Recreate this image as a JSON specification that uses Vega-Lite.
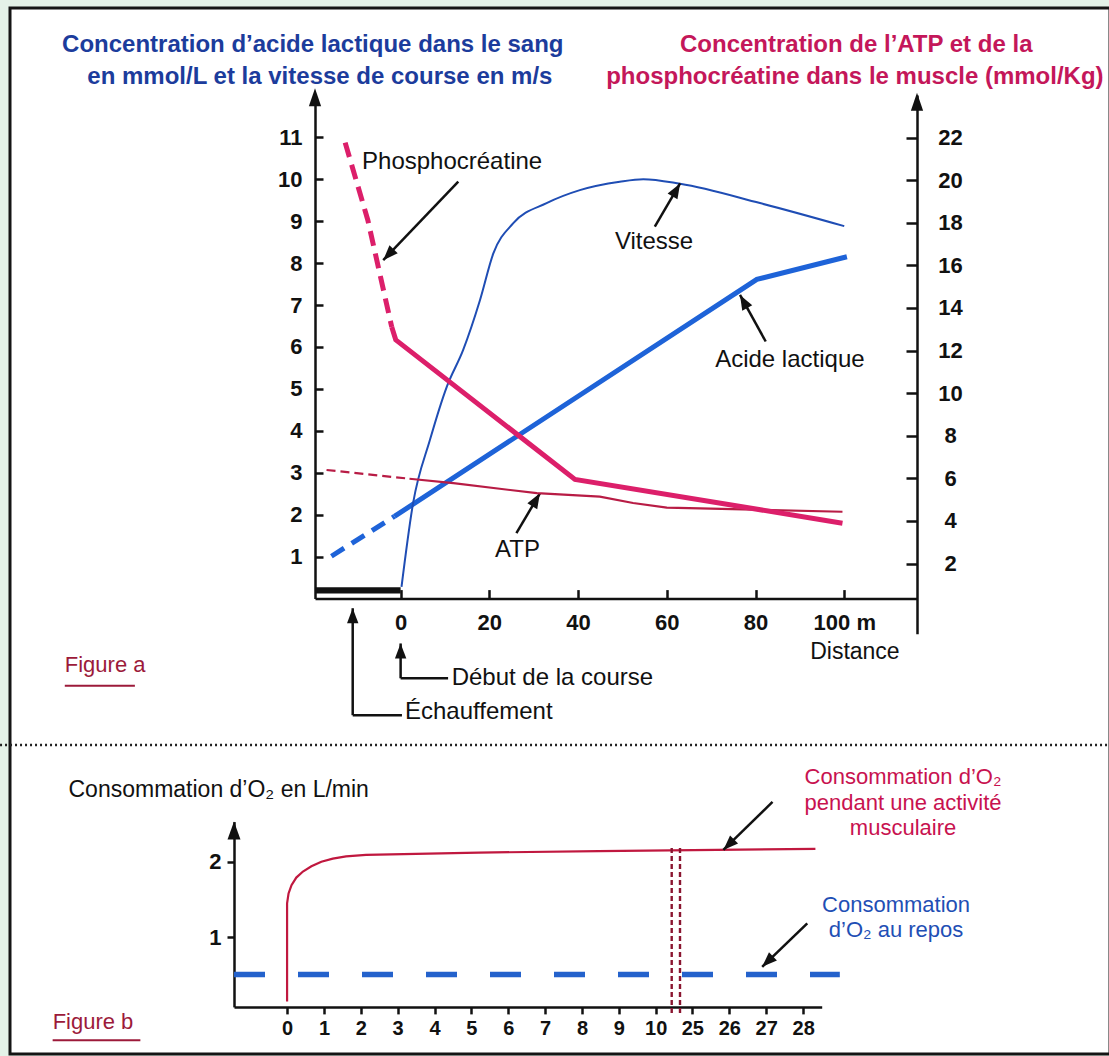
{
 "$schema": "https://vega.github.io/schema/vega-lite/v6.json",
 "width": 1100,
 "height": 1046,
 "autosize": {"type": "none"},
 "padding": {"left": 10, "top": 8, "right": 0, "bottom": 2},
 "background": "#e4f2e8",
 "config": {
  "view": {"stroke": "#151515", "strokeWidth": 3, "fill": "#ffffff"},
  "font": "Liberation Sans",
  "axis": {"grid": false, "domainColor": "#111111", "domainWidth": 2.5, "tickColor": "#111111", "tickWidth": 2.5, "labelColor": "#111111", "labelFont": "Liberation Sans", "labelFontWeight": "bold", "labelFontSize": 22, "labelOverlap": false, "labelFlush": false, "labelBound": false, "format": "d"},
  "text": {"font": "Liberation Sans", "baseline": "middle"}
 },
 "datasets": {
  "courbes_gauche": [
   {"courbe": "Acide lactique", "trait": "pointillé", "distance": -15.6, "valeur": 1.01},
   {"courbe": "Acide lactique", "trait": "pointillé", "distance": -1.4, "valeur": 1.96},
   {"courbe": "Acide lactique", "trait": "continu", "distance": -1.4, "valeur": 1.96},
   {"courbe": "Acide lactique", "trait": "continu", "distance": 80.3, "valeur": 7.61},
   {"courbe": "Acide lactique", "trait": "continu", "distance": 100.6, "valeur": 8.15},
   {"courbe": "Vitesse", "trait": "continu", "distance": 0.2, "valeur": 0.28},
   {"courbe": "Vitesse", "trait": "continu", "distance": 2.8, "valeur": 2.27},
   {"courbe": "Vitesse", "trait": "continu", "distance": 6.6, "valeur": 3.78},
   {"courbe": "Vitesse", "trait": "continu", "distance": 10.4, "valeur": 5.05},
   {"courbe": "Vitesse", "trait": "continu", "distance": 14.1, "valeur": 5.93},
   {"courbe": "Vitesse", "trait": "continu", "distance": 17.9, "valeur": 7.12},
   {"courbe": "Vitesse", "trait": "continu", "distance": 20.9, "valeur": 8.23},
   {"courbe": "Vitesse", "trait": "continu", "distance": 25.4, "valeur": 8.95},
   {"courbe": "Vitesse", "trait": "continu", "distance": 32.9, "valeur": 9.43},
   {"courbe": "Vitesse", "trait": "continu", "distance": 40.4, "valeur": 9.74},
   {"courbe": "Vitesse", "trait": "continu", "distance": 49.4, "valeur": 9.94},
   {"courbe": "Vitesse", "trait": "continu", "distance": 54.7, "valeur": 10.0},
   {"courbe": "Vitesse", "trait": "continu", "distance": 63.0, "valeur": 9.89},
   {"courbe": "Vitesse", "trait": "continu", "distance": 81.0, "valeur": 9.43},
   {"courbe": "Vitesse", "trait": "continu", "distance": 100.0, "valeur": 8.88}
  ],
  "courbes_droite": [
   {"courbe": "Phosphocréatine", "trait": "pointillé", "distance": -12.5, "valeur": 21.76},
   {"courbe": "Phosphocréatine", "trait": "pointillé", "distance": -7.4, "valeur": 18.13},
   {"courbe": "Phosphocréatine", "trait": "pointillé", "distance": -2.0, "valeur": 13.1},
   {"courbe": "Phosphocréatine", "trait": "continu", "distance": -2.0, "valeur": 13.1},
   {"courbe": "Phosphocréatine", "trait": "continu", "distance": -1.1, "valeur": 12.5},
   {"courbe": "Phosphocréatine", "trait": "continu", "distance": 39.3, "valeur": 5.95},
   {"courbe": "Phosphocréatine", "trait": "continu", "distance": 99.6, "valeur": 3.89},
   {"courbe": "ATP", "trait": "pointillé", "distance": -16.7, "valeur": 6.39},
   {"courbe": "ATP", "trait": "pointillé", "distance": 2.0, "valeur": 5.98},
   {"courbe": "ATP", "trait": "continu", "distance": 2.0, "valeur": 5.98},
   {"courbe": "ATP", "trait": "continu", "distance": 11.9, "valeur": 5.77},
   {"courbe": "ATP", "trait": "continu", "distance": 30.7, "valeur": 5.3},
   {"courbe": "ATP", "trait": "continu", "distance": 44.9, "valeur": 5.14},
   {"courbe": "ATP", "trait": "continu", "distance": 52.4, "valeur": 4.84},
   {"courbe": "ATP", "trait": "continu", "distance": 60.0, "valeur": 4.62},
   {"courbe": "ATP", "trait": "continu", "distance": 67.5, "valeur": 4.59},
   {"courbe": "ATP", "trait": "continu", "distance": 99.6, "valeur": 4.43}
  ],
  "echauffement": [{"debut": -19.3, "fin": 0}],
  "fleches_a": [
   {"d": 13.0, "v": 9.94, "d2": -3.92, "v2": 8.07, "pointe": true},
   {"d": 57.3, "v": 8.87, "d2": 63.0, "v2": 9.9, "pointe": true},
   {"d": 82.3, "v": 6.13, "d2": 76.5, "v2": 7.24, "pointe": true},
   {"d": 26.1, "v": 1.56, "d2": 31.4, "v2": 2.51, "pointe": true},
   {"d": -10.8, "v": -2.78, "d2": -10.8, "v2": -0.23, "pointe": true},
   {"d": 0, "v": -1.9, "d2": 0, "v2": -1.07, "pointe": true},
   {"d": -10.8, "v": -2.78, "d2": 0.3, "v2": -2.78, "pointe": false},
   {"d": 0, "v": -1.9, "d2": 10.7, "v2": -1.9, "pointe": false}
  ],
  "textes_a": [
   {"texte": "Phosphocréatine", "d": -8.7, "v": 10.41, "role": "courbe"},
   {"texte": "Vitesse", "d": 48.3, "v": 8.5, "role": "courbe"},
   {"texte": "Acide lactique", "d": 70.9, "v": 5.69, "role": "courbe"},
   {"texte": "ATP", "d": 21.3, "v": 1.16, "role": "courbe"},
   {"texte": "Début de la course", "d": 11.5, "v": -1.89, "role": "courbe"},
   {"texte": "Échauffement", "d": 0.97, "v": -2.7, "role": "courbe"},
   {"texte": "Distance", "d": 102.4, "v": -1.27, "role": "distance"},
   {"texte": "Figure a", "d": -75.7, "v": -1.58, "role": "figure"},
   {"texte": "Concentration d’acide lactique dans le sang", "d": -19.8, "v": 13.2, "role": "titre_g"},
   {"texte": "en mmol/L et la vitesse de course en m/s", "d": -18.2, "v": 12.43, "role": "titre_g"},
   {"texte": "Concentration de l’ATP et de la", "d": 102.7, "v": 13.2, "role": "titre_d"},
   {"texte": "phosphocréatine dans le muscle (mmol/Kg)", "d": 102.4, "v": 12.43, "role": "titre_d"}
  ],
  "o2": [
   {"etat": "activité", "temps": 0, "valeur": 0.15},
   {"etat": "activité", "temps": 0, "valeur": 1.45},
   {"etat": "activité", "temps": 0.04, "valeur": 1.58},
   {"etat": "activité", "temps": 0.12, "valeur": 1.69},
   {"etat": "activité", "temps": 0.25, "valeur": 1.79},
   {"etat": "activité", "temps": 0.43, "valeur": 1.87},
   {"etat": "activité", "temps": 0.66, "valeur": 1.94},
   {"etat": "activité", "temps": 0.93, "valeur": 2.0},
   {"etat": "activité", "temps": 1.24, "valeur": 2.04},
   {"etat": "activité", "temps": 1.6, "valeur": 2.07},
   {"etat": "activité", "temps": 2.14, "valeur": 2.09},
   {"etat": "activité", "temps": 5.2, "valeur": 2.12},
   {"etat": "activité", "temps": 8.45, "valeur": 2.14},
   {"etat": "activité", "temps": 28.33, "valeur": 2.17},
   {"etat": "repos", "temps": -1.44, "valeur": 0.51},
   {"etat": "repos", "temps": 28.99, "valeur": 0.51}
  ],
  "coupure": [{"temps": 16.56}, {"temps": 19.96}],
  "fleches_b": [
   {"t": 27.17, "v": 2.79, "t2": 25.84, "v2": 2.155},
   {"t": 28.11, "v": 1.185, "t2": 26.89, "v2": 0.61}
  ],
  "textes_b": [
   {"texte": "Consommation d’O₂ en L/min", "t": -5.93, "v": 2.95, "role": "titre"},
   {"texte": "Figure b", "t": -6.36, "v": -0.12, "role": "figure"},
   {"texte": "Consommation d’O₂", "t": 30.7, "v": 3.12, "role": "activite"},
   {"texte": "pendant une activité", "t": 30.7, "v": 2.78, "role": "activite"},
   {"texte": "musculaire", "t": 30.7, "v": 2.45, "role": "activite"},
   {"texte": "Consommation", "t": 30.51, "v": 1.43, "role": "repos"},
   {"texte": "d’O₂ au repos", "t": 30.51, "v": 1.1, "role": "repos"}
  ]
 },
 "layer": [
  {
   "layer": [
    {
     "data": {"name": "echauffement"},
     "mark": {"type": "rect", "color": "#111111"},
     "encoding": {
      "x": {"field": "debut", "type": "quantitative", "scale": {"domain": [-19.3, 116.4], "range": [305, 907], "nice": false, "zero": false},
            "axis": {"orient": "bottom", "offset": -455.4, "values": [0, 20, 40, 60, 80, 100], "tickSize": -9, "labelPadding": 23, "labelExpr": "datum.value == 100 ? '100 m' : datum.label", "title": null}},
      "x2": {"field": "fin"},
      "y": {"datum": 0.12, "type": "quantitative", "scale": {"domain": [0, 12], "range": [590.6, 87.3], "nice": false, "zero": false},
            "axis": {"orient": "left", "offset": -305, "values": [1, 2, 3, 4, 5, 6, 7, 8, 9, 10, 11], "tickSize": -8, "labelPadding": 21, "title": null}},
      "y2": {"datum": 0.27}
     }
    },
    {
     "data": {"values": [{}]},
     "mark": {"type": "rule", "strokeDash": [2, 3], "strokeWidth": 2.5, "color": "#222222"},
     "encoding": {
      "x": {"datum": -90.3, "type": "quantitative", "scale": {"domain": [-19.3, 116.4], "range": [305, 907], "nice": false, "zero": false}},
      "x2": {"datum": 160},
      "y": {"datum": -3.49, "type": "quantitative", "scale": {"domain": [0, 12], "range": [590.6, 87.3], "nice": false, "zero": false}}
     }
    },
    {
     "data": {"values": [{}]},
     "mark": {"type": "rule", "strokeWidth": 2, "color": "#9c1a3a"},
     "encoding": {
      "x": {"datum": -75.7, "type": "quantitative", "scale": {"domain": [-19.3, 116.4], "range": [305, 907], "nice": false, "zero": false}},
      "x2": {"datum": -59.9},
      "y": {"datum": -2.08, "type": "quantitative", "scale": {"domain": [0, 12], "range": [590.6, 87.3], "nice": false, "zero": false}}
     }
    },
    {
     "data": {"values": [{}]},
     "mark": {"type": "point", "shape": "M0,0L-0.34,1L0.34,1Z", "filled": true, "color": "#111111", "size": 1300, "strokeWidth": 0, "opacity": 1},
     "encoding": {
      "x": {"datum": -19.3, "type": "quantitative", "scale": {"domain": [-19.3, 116.4], "range": [305, 907], "nice": false, "zero": false}},
      "y": {"datum": 12.17, "type": "quantitative", "scale": {"domain": [0, 12], "range": [590.6, 87.3], "nice": false, "zero": false}}
     }
    },
    {
     "data": {"name": "courbes_gauche"},
     "transform": [{"filter": "datum.courbe == 'Acide lactique' && datum.trait == 'pointillé'"}],
     "mark": {"type": "line", "color": "#1e63d8", "strokeWidth": 5, "strokeDash": [15, 9]},
     "encoding": {
      "x": {"field": "distance", "type": "quantitative", "scale": {"domain": [-19.3, 116.4], "range": [305, 907], "nice": false, "zero": false}},
      "y": {"field": "valeur", "type": "quantitative", "scale": {"domain": [0, 12], "range": [590.6, 87.3], "nice": false, "zero": false}}
     }
    },
    {
     "data": {"name": "courbes_gauche"},
     "transform": [{"filter": "datum.courbe == 'Acide lactique' && datum.trait == 'continu'"}],
     "mark": {"type": "line", "color": "#1e63d8", "strokeWidth": 5},
     "encoding": {
      "x": {"field": "distance", "type": "quantitative", "scale": {"domain": [-19.3, 116.4], "range": [305, 907], "nice": false, "zero": false}},
      "y": {"field": "valeur", "type": "quantitative", "scale": {"domain": [0, 12], "range": [590.6, 87.3], "nice": false, "zero": false}}
     }
    },
    {
     "data": {"name": "courbes_gauche"},
     "transform": [{"filter": "datum.courbe == 'Vitesse'"}],
     "mark": {"type": "line", "color": "#1f4db4", "strokeWidth": 2, "interpolate": "monotone"},
     "encoding": {
      "x": {"field": "distance", "type": "quantitative", "scale": {"domain": [-19.3, 116.4], "range": [305, 907], "nice": false, "zero": false}},
      "y": {"field": "valeur", "type": "quantitative", "scale": {"domain": [0, 12], "range": [590.6, 87.3], "nice": false, "zero": false}}
     }
    },
    {
     "data": {"name": "fleches_a"},
     "mark": {"type": "rule", "color": "#111111", "strokeWidth": 2.5},
     "encoding": {
      "x": {"field": "d", "type": "quantitative", "scale": {"domain": [-19.3, 116.4], "range": [305, 907], "nice": false, "zero": false}},
      "x2": {"field": "d2"},
      "y": {"field": "v", "type": "quantitative", "scale": {"domain": [0, 12], "range": [590.6, 87.3], "nice": false, "zero": false}},
      "y2": {"field": "v2"}
     }
    },
    {
     "data": {"name": "fleches_a"},
     "transform": [{"filter": "datum.pointe"}, {"calculate": "atan2((datum.d2 - datum.d) * 4.436, (datum.v2 - datum.v) * 41.94) * 180 / PI", "as": "angle"}],
     "mark": {"type": "point", "shape": "M0,0L-0.38,1L0.38,1Z", "filled": true, "color": "#111111", "size": 900, "strokeWidth": 0, "opacity": 1},
     "encoding": {
      "x": {"field": "d2", "type": "quantitative", "scale": {"domain": [-19.3, 116.4], "range": [305, 907], "nice": false, "zero": false}},
      "y": {"field": "v2", "type": "quantitative", "scale": {"domain": [0, 12], "range": [590.6, 87.3], "nice": false, "zero": false}},
      "angle": {"field": "angle", "type": "quantitative", "scale": null}
     }
    },
    {
     "data": {"name": "textes_a"},
     "transform": [{"filter": "datum.role == 'courbe'"}],
     "mark": {"type": "text", "align": "left", "fontSize": 24, "color": "#111111"},
     "encoding": {
      "x": {"field": "d", "type": "quantitative", "scale": {"domain": [-19.3, 116.4], "range": [305, 907], "nice": false, "zero": false}},
      "y": {"field": "v", "type": "quantitative", "scale": {"domain": [0, 12], "range": [590.6, 87.3], "nice": false, "zero": false}},
      "text": {"field": "texte"}
     }
    },
    {
     "data": {"name": "textes_a"},
     "transform": [{"filter": "datum.role == 'distance'"}],
     "mark": {"type": "text", "align": "center", "fontSize": 23, "color": "#111111"},
     "encoding": {
      "x": {"field": "d", "type": "quantitative", "scale": {"domain": [-19.3, 116.4], "range": [305, 907], "nice": false, "zero": false}},
      "y": {"field": "v", "type": "quantitative", "scale": {"domain": [0, 12], "range": [590.6, 87.3], "nice": false, "zero": false}},
      "text": {"field": "texte"}
     }
    },
    {
     "data": {"name": "textes_a"},
     "transform": [{"filter": "datum.role == 'figure'"}],
     "mark": {"type": "text", "align": "left", "fontSize": 22, "color": "#9c1a3a"},
     "encoding": {
      "x": {"field": "d", "type": "quantitative", "scale": {"domain": [-19.3, 116.4], "range": [305, 907], "nice": false, "zero": false}},
      "y": {"field": "v", "type": "quantitative", "scale": {"domain": [0, 12], "range": [590.6, 87.3], "nice": false, "zero": false}},
      "text": {"field": "texte"}
     }
    },
    {
     "data": {"name": "textes_a"},
     "transform": [{"filter": "datum.role == 'titre_g'"}],
     "mark": {"type": "text", "align": "center", "fontSize": 24, "fontWeight": "bold", "color": "#1c3c9c"},
     "encoding": {
      "x": {"field": "d", "type": "quantitative", "scale": {"domain": [-19.3, 116.4], "range": [305, 907], "nice": false, "zero": false}},
      "y": {"field": "v", "type": "quantitative", "scale": {"domain": [0, 12], "range": [590.6, 87.3], "nice": false, "zero": false}},
      "text": {"field": "texte"}
     }
    },
    {
     "data": {"name": "textes_a"},
     "transform": [{"filter": "datum.role == 'titre_d'"}],
     "mark": {"type": "text", "align": "center", "fontSize": 24, "fontWeight": "bold", "color": "#c4175a"},
     "encoding": {
      "x": {"field": "d", "type": "quantitative", "scale": {"domain": [-19.3, 116.4], "range": [305, 907], "nice": false, "zero": false}},
      "y": {"field": "v", "type": "quantitative", "scale": {"domain": [0, 12], "range": [590.6, 87.3], "nice": false, "zero": false}},
      "text": {"field": "texte"}
     }
    }
   ]
  },
  {
   "layer": [
    {
     "data": {"name": "courbes_droite"},
     "transform": [{"filter": "datum.courbe == 'ATP' && datum.trait == 'pointillé'"}],
     "mark": {"type": "line", "color": "#b81c45", "strokeWidth": 2.2, "strokeDash": [9, 5]},
     "encoding": {
      "x": {"field": "distance", "type": "quantitative", "scale": {"domain": [-19.3, 116.4], "range": [305, 907], "nice": false, "zero": false}, "axis": null},
      "y": {"field": "valeur", "type": "quantitative", "scale": {"domain": [-1.3, 24], "range": [625.8, 86.9], "nice": false, "zero": false},
            "axis": {"orient": "right", "offset": -193, "values": [2, 4, 6, 8, 10, 12, 14, 16, 18, 20, 22], "tickSize": -11, "labelPadding": 44, "labelAlign": "center", "title": null}}
     }
    },
    {
     "data": {"name": "courbes_droite"},
     "transform": [{"filter": "datum.courbe == 'ATP' && datum.trait == 'continu'"}],
     "mark": {"type": "line", "color": "#b81c45", "strokeWidth": 2.2},
     "encoding": {
      "x": {"field": "distance", "type": "quantitative", "scale": {"domain": [-19.3, 116.4], "range": [305, 907], "nice": false, "zero": false}, "axis": null},
      "y": {"field": "valeur", "type": "quantitative", "scale": {"domain": [-1.3, 24], "range": [625.8, 86.9], "nice": false, "zero": false}}
     }
    },
    {
     "data": {"name": "courbes_droite"},
     "transform": [{"filter": "datum.courbe == 'Phosphocréatine' && datum.trait == 'pointillé'"}],
     "mark": {"type": "line", "color": "#dc1f6a", "strokeWidth": 5, "strokeDash": [15, 8]},
     "encoding": {
      "x": {"field": "distance", "type": "quantitative", "scale": {"domain": [-19.3, 116.4], "range": [305, 907], "nice": false, "zero": false}, "axis": null},
      "y": {"field": "valeur", "type": "quantitative", "scale": {"domain": [-1.3, 24], "range": [625.8, 86.9], "nice": false, "zero": false}}
     }
    },
    {
     "data": {"name": "courbes_droite"},
     "transform": [{"filter": "datum.courbe == 'Phosphocréatine' && datum.trait == 'continu'"}],
     "mark": {"type": "line", "color": "#dc1f6a", "strokeWidth": 5},
     "encoding": {
      "x": {"field": "distance", "type": "quantitative", "scale": {"domain": [-19.3, 116.4], "range": [305, 907], "nice": false, "zero": false}, "axis": null},
      "y": {"field": "valeur", "type": "quantitative", "scale": {"domain": [-1.3, 24], "range": [625.8, 86.9], "nice": false, "zero": false}}
     }
    },
    {
     "data": {"values": [{}]},
     "mark": {"type": "point", "shape": "M0,0L-0.34,1L0.34,1Z", "filled": true, "color": "#111111", "size": 1300, "strokeWidth": 0, "opacity": 1},
     "encoding": {
      "x": {"datum": 116.4, "type": "quantitative", "scale": {"domain": [-19.3, 116.4], "range": [305, 907], "nice": false, "zero": false}, "axis": null},
      "y": {"datum": 24.1, "type": "quantitative", "scale": {"domain": [-1.3, 24], "range": [625.8, 86.9], "nice": false, "zero": false}}
     }
    }
   ]
  },
  {
   "layer": [
    {
     "data": {"name": "o2"},
     "transform": [{"filter": "datum.etat == 'repos'"}],
     "mark": {"type": "line", "color": "#2462cc", "strokeWidth": 5.5, "strokeDash": [31, 33]},
     "encoding": {
      "x": {"field": "temps", "type": "quantitative", "scale": {"domain": [-1.44, 10, 25, 28.5], "range": [224, 645.7, 682.3, 811.7], "nice": false, "zero": false},
            "axis": {"orient": "bottom", "offset": -47.1, "values": [0, 1, 2, 3, 4, 5, 6, 7, 8, 9, 10, 25, 26, 27, 28], "tickSize": 7, "labelPadding": 5, "labelFontSize": 20, "title": null}},
      "y": {"field": "valeur", "type": "quantitative", "scale": {"domain": [0.08, 2.53], "range": [998.9, 813.6], "nice": false, "zero": false},
            "axis": {"orient": "left", "offset": -224, "values": [1, 2], "tickSize": 7, "labelPadding": 6, "title": null}}
     }
    },
    {
     "data": {"name": "o2"},
     "transform": [{"filter": "datum.etat == 'activité'"}],
     "mark": {"type": "line", "color": "#c0183f", "strokeWidth": 2.2},
     "encoding": {
      "x": {"field": "temps", "type": "quantitative", "scale": {"domain": [-1.44, 10, 25, 28.5], "range": [224, 645.7, 682.3, 811.7], "nice": false, "zero": false}},
      "y": {"field": "valeur", "type": "quantitative", "scale": {"domain": [0.08, 2.53], "range": [998.9, 813.6], "nice": false, "zero": false}}
     }
    },
    {
     "data": {"name": "coupure"},
     "mark": {"type": "rule", "color": "#8a1530", "strokeWidth": 2.4, "strokeDash": [5, 3]},
     "encoding": {
      "x": {"field": "temps", "type": "quantitative", "scale": {"domain": [-1.44, 10, 25, 28.5], "range": [224, 645.7, 682.3, 811.7], "nice": false, "zero": false}},
      "y": {"datum": 2.18, "type": "quantitative", "scale": {"domain": [0.08, 2.53], "range": [998.9, 813.6], "nice": false, "zero": false}},
      "y2": {"datum": -0.03}
     }
    },
    {
     "data": {"values": [{}]},
     "mark": {"type": "point", "shape": "M0,0L-0.36,1L0.36,1Z", "filled": true, "color": "#111111", "size": 1296, "strokeWidth": 0, "opacity": 1},
     "encoding": {
      "x": {"datum": -1.44, "type": "quantitative", "scale": {"domain": [-1.44, 10, 25, 28.5], "range": [224, 645.7, 682.3, 811.7], "nice": false, "zero": false}},
      "y": {"datum": 2.53, "type": "quantitative", "scale": {"domain": [0.08, 2.53], "range": [998.9, 813.6], "nice": false, "zero": false}}
     }
    },
    {
     "data": {"values": [{}]},
     "mark": {"type": "rule", "strokeWidth": 2, "color": "#9c1a3a"},
     "encoding": {
      "x": {"datum": -6.36, "type": "quantitative", "scale": {"domain": [-1.44, 10, 25, 28.5], "range": [224, 645.7, 682.3, 811.7], "nice": false, "zero": false}},
      "x2": {"datum": -3.98},
      "y": {"datum": -0.36, "type": "quantitative", "scale": {"domain": [0.08, 2.53], "range": [998.9, 813.6], "nice": false, "zero": false}}
     }
    },
    {
     "data": {"name": "fleches_b"},
     "mark": {"type": "rule", "color": "#111111", "strokeWidth": 2.5},
     "encoding": {
      "x": {"field": "t", "type": "quantitative", "scale": {"domain": [-1.44, 10, 25, 28.5], "range": [224, 645.7, 682.3, 811.7], "nice": false, "zero": false}},
      "x2": {"field": "t2"},
      "y": {"field": "v", "type": "quantitative", "scale": {"domain": [0.08, 2.53], "range": [998.9, 813.6], "nice": false, "zero": false}},
      "y2": {"field": "v2"}
     }
    },
    {
     "data": {"name": "fleches_b"},
     "transform": [{"calculate": "atan2((datum.t2 - datum.t) * 36.8, (datum.v2 - datum.v) * 75.6) * 180 / PI", "as": "angle"}],
     "mark": {"type": "point", "shape": "M0,0L-0.38,1L0.38,1Z", "filled": true, "color": "#111111", "size": 900, "strokeWidth": 0, "opacity": 1},
     "encoding": {
      "x": {"field": "t2", "type": "quantitative", "scale": {"domain": [-1.44, 10, 25, 28.5], "range": [224, 645.7, 682.3, 811.7], "nice": false, "zero": false}},
      "y": {"field": "v2", "type": "quantitative", "scale": {"domain": [0.08, 2.53], "range": [998.9, 813.6], "nice": false, "zero": false}},
      "angle": {"field": "angle", "type": "quantitative", "scale": null}
     }
    },
    {
     "data": {"name": "textes_b"},
     "transform": [{"filter": "datum.role == 'titre'"}],
     "mark": {"type": "text", "align": "left", "fontSize": 23, "color": "#111111"},
     "encoding": {
      "x": {"field": "t", "type": "quantitative", "scale": {"domain": [-1.44, 10, 25, 28.5], "range": [224, 645.7, 682.3, 811.7], "nice": false, "zero": false}},
      "y": {"field": "v", "type": "quantitative", "scale": {"domain": [0.08, 2.53], "range": [998.9, 813.6], "nice": false, "zero": false}},
      "text": {"field": "texte"}
     }
    },
    {
     "data": {"name": "textes_b"},
     "transform": [{"filter": "datum.role == 'figure'"}],
     "mark": {"type": "text", "align": "left", "fontSize": 22, "color": "#9c1a3a"},
     "encoding": {
      "x": {"field": "t", "type": "quantitative", "scale": {"domain": [-1.44, 10, 25, 28.5], "range": [224, 645.7, 682.3, 811.7], "nice": false, "zero": false}},
      "y": {"field": "v", "type": "quantitative", "scale": {"domain": [0.08, 2.53], "range": [998.9, 813.6], "nice": false, "zero": false}},
      "text": {"field": "texte"}
     }
    },
    {
     "data": {"name": "textes_b"},
     "transform": [{"filter": "datum.role == 'activite'"}],
     "mark": {"type": "text", "align": "center", "fontSize": 22, "color": "#c8124f"},
     "encoding": {
      "x": {"field": "t", "type": "quantitative", "scale": {"domain": [-1.44, 10, 25, 28.5], "range": [224, 645.7, 682.3, 811.7], "nice": false, "zero": false}},
      "y": {"field": "v", "type": "quantitative", "scale": {"domain": [0.08, 2.53], "range": [998.9, 813.6], "nice": false, "zero": false}},
      "text": {"field": "texte"}
     }
    },
    {
     "data": {"name": "textes_b"},
     "transform": [{"filter": "datum.role == 'repos'"}],
     "mark": {"type": "text", "align": "center", "fontSize": 22, "color": "#1f4fb5"},
     "encoding": {
      "x": {"field": "t", "type": "quantitative", "scale": {"domain": [-1.44, 10, 25, 28.5], "range": [224, 645.7, 682.3, 811.7], "nice": false, "zero": false}},
      "y": {"field": "v", "type": "quantitative", "scale": {"domain": [0.08, 2.53], "range": [998.9, 813.6], "nice": false, "zero": false}},
      "text": {"field": "texte"}
     }
    }
   ]
  }
 ],
 "resolve": {"scale": {"x": "independent", "y": "independent"}, "axis": {"x": "independent", "y": "independent"}}
}
